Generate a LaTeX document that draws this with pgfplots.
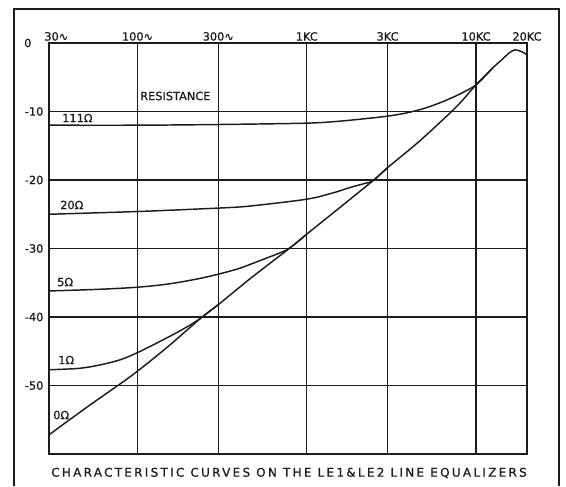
\documentclass[border=0pt]{standalone}
\usepackage{pgfplots}
\pgfplotsset{compat=1.18}
\usepackage{fontspec}
\setmainfont[FakeBold=0.8]{DejaVu Sans}
\newfontfamily\lettering[LetterSpace=19, FakeBold=0.8]{DejaVu Sans}

\definecolor{ink}{HTML}{1C1C1C}

\begin{document}
\begin{tikzpicture}
\begin{axis}[
  scale only axis,
  width=358.5pt, height=308.25pt,
  xmode=log,
  xmin=30, xmax=20000,
  ymin=-60, ymax=0,
  xtick={30,100,300,1000,3000,10000,20000},
  xticklabels={\hspace*{11pt}30∿,100∿,300∿,1KC,3KC,10KC,20KC},
  xticklabel pos=upper,
  ytick={-60,-50,-40,-30,-20,-10,0},
  yticklabels={,-50,-40,-30,-20,-10,0\kern9pt},
  tick style={draw=none},
  major tick length=0pt, minor tick length=0pt,
  grid=major,
  major grid style={ink, line width=0.9pt},
  axis line style={ink, line width=1pt},
  tick label style={font=\fontsize{8.5}{10}\selectfont, text=ink},
  xticklabel style={inner sep=1.5pt},
  yticklabel style={inner sep=1pt, xshift=-3pt},
  clip=true,
]
% 0 ohm
\addplot[ink, line width=1.1pt, smooth] coordinates {
  (30,-57.2) (50,-53.2) (78.6,-49.8) (100,-47.9) (150,-44.4) (241,-40.0)
  (300,-38.2) (463,-34.4) (797,-29.9) (1000,-27.9) (1500,-24.4) (2460,-20.1)
  (3000,-18.2) (4500,-14.6) (6114,-11.6) (7943,-8.9) (10000,-6.1) (12589,-3.6)
  (14125,-2.5) (15600,-1.5) (16900,-1.0) (18100,-1.15) (19200,-1.45) (20000,-1.75)
};
% 1 ohm
\addplot[ink, line width=1.1pt, smooth] coordinates {
  (30,-47.7) (45,-47.5) (60,-47.0) (80,-46.2) (100,-45.2) (130,-43.8)
  (170,-42.3) (210,-41.0) (241,-40.0) (300,-38.2)
};
% 5 ohm
\addplot[ink, line width=1.1pt, smooth] coordinates {
  (30,-36.2) (60,-35.95) (100,-35.65) (150,-35.2) (220,-34.5) (300,-33.75)
  (400,-32.9) (500,-32.0) (600,-31.25) (700,-30.6) (797,-29.9) (1000,-27.9)
};
% 20 ohm
\addplot[ink, line width=1.1pt, smooth] coordinates {
  (30,-25.0) (100,-24.6) (300,-24.1) (463,-23.8) (1000,-22.8) (1420,-21.9)
  (1800,-21.1) (2200,-20.5) (2460,-20.1) (3000,-18.2)
};
% 111 ohm
\addplot[ink, line width=1.1pt, smooth] coordinates {
  (30,-12.0) (100,-12.0) (300,-11.9) (1000,-11.7) (1585,-11.4) (2512,-10.9)
  (3162,-10.6) (3981,-10.15) (5012,-9.5) (6310,-8.6) (7943,-7.5) (10000,-6.1)
  (12589,-3.6)
};
\end{axis}

% annotations and frame, placed on a pixel grid
\begin{scope}[x=0.75pt, y=-0.75pt, shift={(-36.75pt,340.5pt)},
  every node/.style={font=\fontsize{8.5}{10}\selectfont, text=ink, inner sep=0pt}]
  \node[anchor=west] at (140,96) {RESISTANCE};
  \node[anchor=west] at (62,118) {111Ω};
  \node[anchor=west] at (60,205) {20Ω};
  \node[anchor=west] at (57,282) {5Ω};
  \node[anchor=west] at (58,360) {1Ω};
  \node[anchor=west] at (53,415) {0Ω};
  \node[font=\fontsize{9}{11}\selectfont] at (289,473)
    {\lettering CHARACTERISTIC CURVES ON THE LE1\&LE2 LINE EQUALIZERS};
  \draw[ink, line width=1.1pt] (14,486) -- (14,9) -- (559,9) -- (559,486);
  \pgfresetboundingbox
  \path[use as bounding box] (0,0) rectangle (566,486);
\end{scope}
\end{tikzpicture}
\end{document}
